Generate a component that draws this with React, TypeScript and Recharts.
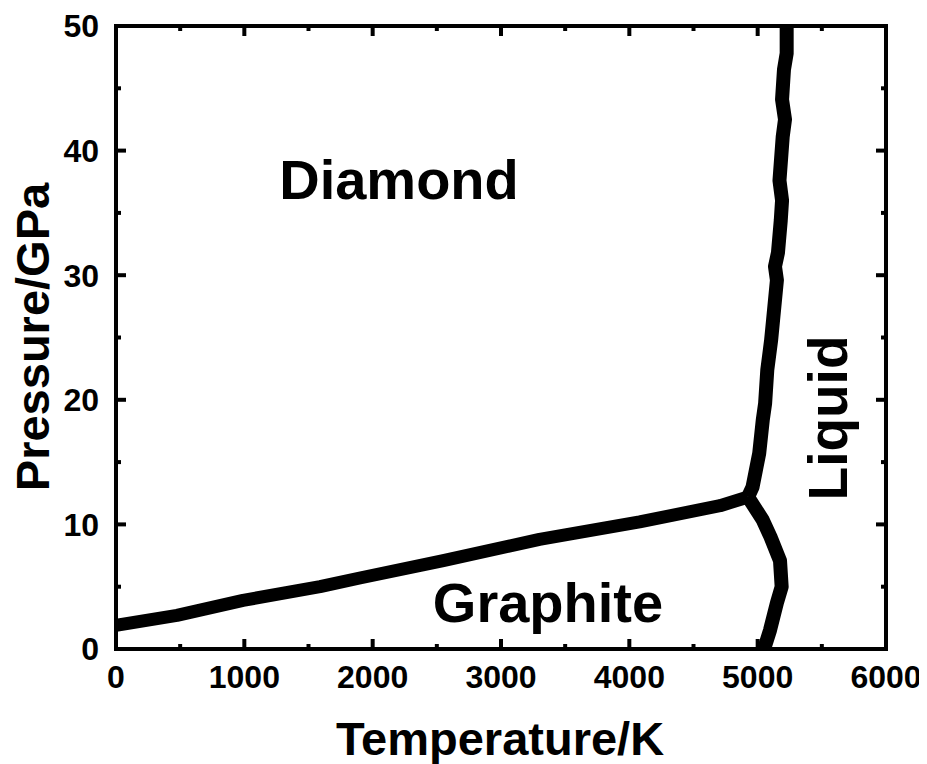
import { ComposedChart, Line, Scatter, XAxis, YAxis, ReferenceArea } from 'recharts';

// phase boundaries of carbon, [temperature K, pressure GPa]
const graphiteDiamond = [
  { t: 0, p: 1.9 },
  { t: 475, p: 2.7 },
  { t: 990, p: 3.9 },
  { t: 1590, p: 5.0 },
  { t: 1900, p: 5.7 },
  { t: 2550, p: 7.1 },
  { t: 3300, p: 8.8 },
  { t: 4080, p: 10.2 },
  { t: 4707, p: 11.5 },
  { t: 4925, p: 12.2 },
];

const graphiteLiquid = [
  { t: 4925, p: 12.2 },
  { t: 5040, p: 10.35 },
  { t: 5100, p: 9.0 },
  { t: 5174, p: 7.1 },
  { t: 5187, p: 5.0 },
  { t: 5150, p: 3.7 },
  { t: 5096, p: 1.5 },
  { t: 5050, p: 0 },
];

const diamondLiquid = [
  { t: 4925, p: 12.2 },
  { t: 4960, p: 13.0 },
  { t: 5012, p: 15.7 },
  { t: 5040, p: 18.4 },
  { t: 5058, p: 19.7 },
  { t: 5075, p: 22.4 },
  { t: 5105, p: 24.8 },
  { t: 5120, p: 26.4 },
  { t: 5150, p: 29.6 },
  { t: 5135, p: 30.7 },
  { t: 5158, p: 31.8 },
  { t: 5180, p: 34.4 },
  { t: 5190, p: 36.0 },
  { t: 5170, p: 37.6 },
  { t: 5195, p: 41.1 },
  { t: 5213, p: 42.5 },
  { t: 5190, p: 44.1 },
  { t: 5205, p: 46.5 },
  { t: 5226, p: 47.8 },
  { t: 5226, p: 50 },
];

const tempTicks = [0, 1000, 2000, 3000, 4000, 5000, 6000];
const tempMinorTicks = [500, 1500, 2500, 3500, 4500, 5500];
const pressTicks = [0, 10, 20, 30, 40, 50];
const pressMinorTicks = [5, 15, 25, 35, 45];

const T_MAX = 6000;
const P_MAX = 50;

const FONT = '"Liberation Sans", Arial, sans-serif';
const tickFont = { fontFamily: FONT, fontSize: 32, fontWeight: 700, fill: '#000' };

type Side = 'bottom' | 'top' | 'left' | 'right';
type TickPt = { t: number; p: number; side: Side; major: boolean };

// tick marks on all four sides of the frame, placed through the axis scales
function tickPoints(): TickPt[] {
  const pts: TickPt[] = [];
  const vert = (t: number, major: boolean) => {
    pts.push({ t, p: 0, side: 'bottom', major });
    pts.push({ t, p: P_MAX, side: 'top', major });
  };
  const horiz = (p: number, major: boolean) => {
    pts.push({ t: 0, p, side: 'left', major });
    pts.push({ t: T_MAX, p, side: 'right', major });
  };
  tempTicks.forEach((t) => vert(t, true));
  tempMinorTicks.forEach((t) => vert(t, false));
  pressTicks.forEach((p) => horiz(p, true));
  pressMinorTicks.forEach((p) => horiz(p, false));
  return pts;
}

const TickMark = (props: any) => {
  const { cx, cy, payload } = props;
  const len = payload.major ? 10 : 5;
  let x2 = cx;
  let y2 = cy;
  if (payload.side === 'bottom') y2 = cy - len;
  if (payload.side === 'top') y2 = cy + len;
  if (payload.side === 'left') x2 = cx + len;
  if (payload.side === 'right') x2 = cx - len;
  return <line x1={cx} y1={cy} x2={x2} y2={y2} stroke="#000" strokeWidth={4} />;
};

export default function App() {
  const W = 919;
  const H = 756;
  const ticks = tickPoints();
  return (
    <div style={{ position: 'relative', width: W, height: H }}>
      <ComposedChart width={W} height={H} margin={{ top: 18, right: 41, bottom: 75, left: 48 }}>
        <XAxis xAxisId="x" dataKey="t" type="number" domain={[0, T_MAX]} allowDataOverflow
          ticks={tempTicks} interval={0} height={40} tickSize={0} tickMargin={16}
          axisLine={false} tickLine={false} tick={tickFont} />
        <YAxis yAxisId="y" type="number" domain={[0, P_MAX]} allowDataOverflow
          ticks={pressTicks} interval={0} width={60} tickSize={0} tickMargin={17}
          axisLine={false} tickLine={false} tick={tickFont} />

        <ReferenceArea xAxisId="x" yAxisId="y" x1={0} x2={T_MAX} y1={0} y2={P_MAX}
          fill="none" fillOpacity={0} stroke="#000" strokeWidth={4} ifOverflow="visible" />

        <Line data={graphiteDiamond} xAxisId="x" yAxisId="y" dataKey="p" type="linear"
          stroke="#000" strokeWidth={13} strokeLinejoin="round" dot={false} activeDot={false}
          isAnimationActive={false} />
        <Line data={graphiteLiquid} xAxisId="x" yAxisId="y" dataKey="p" type="linear"
          stroke="#000" strokeWidth={14} strokeLinejoin="round" dot={false} activeDot={false}
          isAnimationActive={false} />
        <Line data={diamondLiquid} xAxisId="x" yAxisId="y" dataKey="p" type="linear"
          stroke="#000" strokeWidth={14} strokeLinejoin="round" dot={false} activeDot={false}
          isAnimationActive={false} />

        <Scatter data={ticks} xAxisId="x" yAxisId="y" dataKey="p" shape={TickMark}
          isAnimationActive={false} />
      </ComposedChart>

      {/* axis titles and phase names */}
      <svg width={W} height={H} style={{ position: 'absolute', left: 0, top: 0, pointerEvents: 'none' }}
        fontFamily={FONT} fontWeight={700} fill="#000">
        <text x={492} y={747} fontSize={47} textAnchor="middle">Temperature/K</text>
        <text transform="translate(41 329) rotate(-90)" fontSize={47} textAnchor="middle">Pressure/GPa</text>
        <text x={391} y={191} fontSize={56} textAnchor="middle">Diamond</text>
        <text x={540} y={614} fontSize={56} textAnchor="middle">Graphite</text>
        <text transform="translate(839 410) rotate(-90)" fontSize={55} textAnchor="middle">Liquid</text>
      </svg>
    </div>
  );
}
